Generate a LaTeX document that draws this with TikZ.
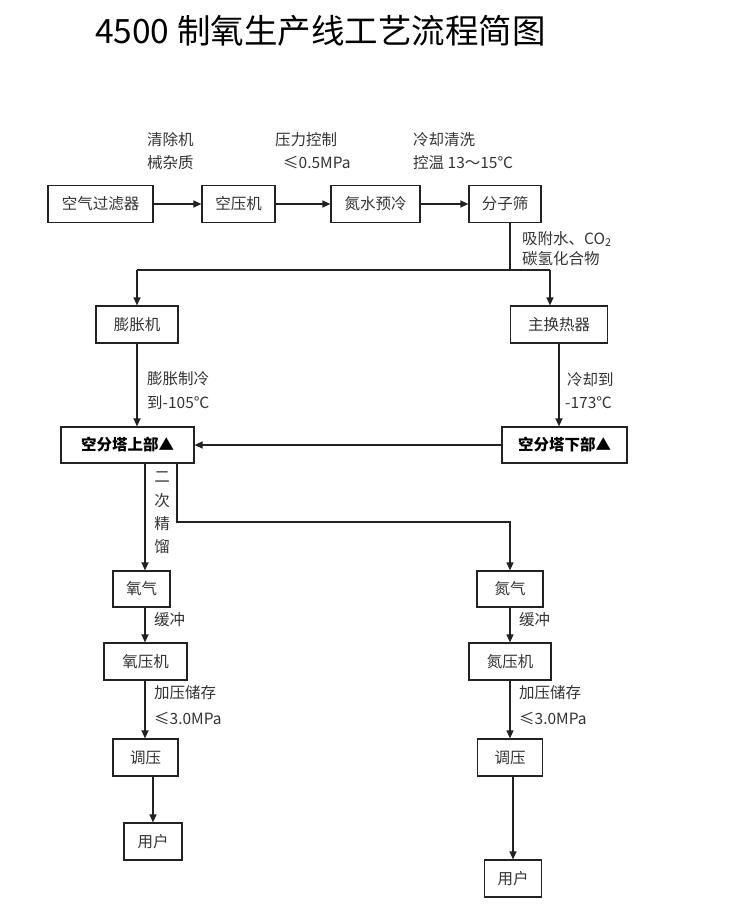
\documentclass[tikz,border=0pt]{standalone}
\usepackage{fontspec}
\setmainfont{Noto Sans CJK SC}
\usetikzlibrary{arrows.meta,calc}
\definecolor{txt}{HTML}{333333}
\definecolor{lnc}{HTML}{222222}
\begin{document}
\begin{tikzpicture}[x=1pt,y=-1pt,
  box/.style={draw=lnc, line width=1.2pt, minimum height=37pt, inner sep=0pt,
    font=\fontsize{15.5}{18}\selectfont, text=txt},
  bbox/.style={box, font=\fontsize{15.5}{18}\selectfont\bfseries, text=black},
  lbl/.style={anchor=west, inner sep=0pt, font=\fontsize{15.5}{18}\selectfont, text=txt},
  wire/.style={draw=lnc, line width=1.2pt},
  arr/.style={wire, -{Triangle[length=8pt,width=7pt]}}]
\useasboundingbox (0,0) rectangle (733,911);

% title
\node[anchor=west, inner sep=0pt, font=\fontsize{33.5}{38}\selectfont, text=black] (title) at (95,31) {4500 制氧生产线工艺流程简图};

% top row
\node[box, minimum width=105pt] (f1) at (100.5,204) {空气过滤器};
\node[box, minimum width=73pt]  (f2) at (238.5,204) {空压机};
\node[box, minimum width=89pt]  (f3) at (375.5,204) {氮水预冷};
\node[box, minimum width=72pt]  (f4) at (505,204)   {分子筛};

\node[lbl] (a1) at (147,140) {清除机};
\node[lbl] (a2) at (147,163) {械杂质};
\node[lbl] (b1) at (275,140) {压力控制};
\node[lbl] (b2) at (283,163) {≤0.5MPa};
\node[lbl] (c1) at (413,140) {冷却清洗};
\node[lbl] (c2) at (413,163) {控温 13～15℃};

\draw[arr] (f1) -- (f2);
\draw[arr] (f2) -- (f3);
\draw[arr] (f3) -- (f4);

% split
\coordinate (s1) at (510,270);
\coordinate (sL) at (137,270);
\coordinate (sR) at (550,270);
\node[lbl] (d1) at (522,239) {吸附水、CO\textsubscript{2}};
\node[lbl] (d2) at (522,259) {碳氢化合物};

\node[box, minimum width=82pt] (pz) at (137,324.5)   {膨胀机};
\node[box, minimum width=97pt] (hx) at (559,324.5) {主换热器};

\draw[wire] (f4.south -| s1) -- (s1);
\draw[wire] (sL) -- (sR);
\draw[arr] (sL) -- (pz.north -| sL);
\draw[arr] (sR) -- (hx.north -| sR);

\node[bbox, minimum width=133pt, minimum height=36pt] (tu) at (127.5,445) {空分塔上部▲};
\node[bbox, minimum width=125pt, minimum height=36pt] (td) at (564.5,445) {空分塔下部▲};

\node[lbl] (e1) at (147,379) {膨胀制冷};
\node[lbl] (e2) at (147,403) {到-105℃};
\node[lbl] (g1) at (567,380) {冷却到};
\node[lbl] (g2) at (565,403) {-173℃};

\draw[arr] (pz.south) -- (pz.south |- tu.north);
\draw[arr] (hx.south) -- (hx.south |- td.north);
\draw[arr] (td.west) -- (tu.east);

% lower part
\coordinate (xo) at (145,0);
\coordinate (xn) at (177,522);

\node[box, minimum width=57pt, minimum height=36pt] (yq) at (141.5,589) {氧气};
\node[box, minimum width=66pt, minimum height=36pt] (nq) at (510,589)   {氮气};

\node[align=center, inner sep=0pt, font=\fontsize{15.5}{23.3}\selectfont, text=txt] (jl) at (162,513) {二\\次\\精\\馏};

\draw[arr] (tu.south -| xo) -- (yq.north -| xo);
\draw[arr] (tu.south -| xn) -- (xn) -| (nq.north);

\node[box, minimum width=83pt] (yy) at (145.5,661.5) {氧压机};
\node[box, minimum width=82pt] (ny) at (510,661.5)   {氮压机};

\node[lbl] (h1) at (154,620) {缓冲};
\node[lbl] (h2) at (519,620) {缓冲};

\draw[arr] (yq.south -| xo) -- (yy.north -| xo);
\draw[arr] (nq.south) -- (ny.north);

\node[box, minimum width=65pt] (ty) at (145.5,757.5) {调压};
\node[box, minimum width=65pt] (tn) at (510,757.5)   {调压};

\node[lbl] (k1) at (154,693) {加压储存};
\node[lbl] (k2) at (154,719) {≤3.0MPa};
\node[lbl] (m1) at (519,693) {加压储存};
\node[lbl] (m2) at (519,719) {≤3.0MPa};

\draw[arr] (yy.south -| xo) -- (ty.north -| xo);
\draw[arr] (ny.south) -- (tn.north);

\node[box, minimum width=58pt] (uy) at (153,841.5)   {用户};
\node[box, minimum width=57pt] (un) at (513,878.5) {用户};

\draw[arr] (ty.south -| uy) -- (uy.north);
\draw[arr] (tn.south -| un) -- (un.north);
\end{tikzpicture}
\end{document}
